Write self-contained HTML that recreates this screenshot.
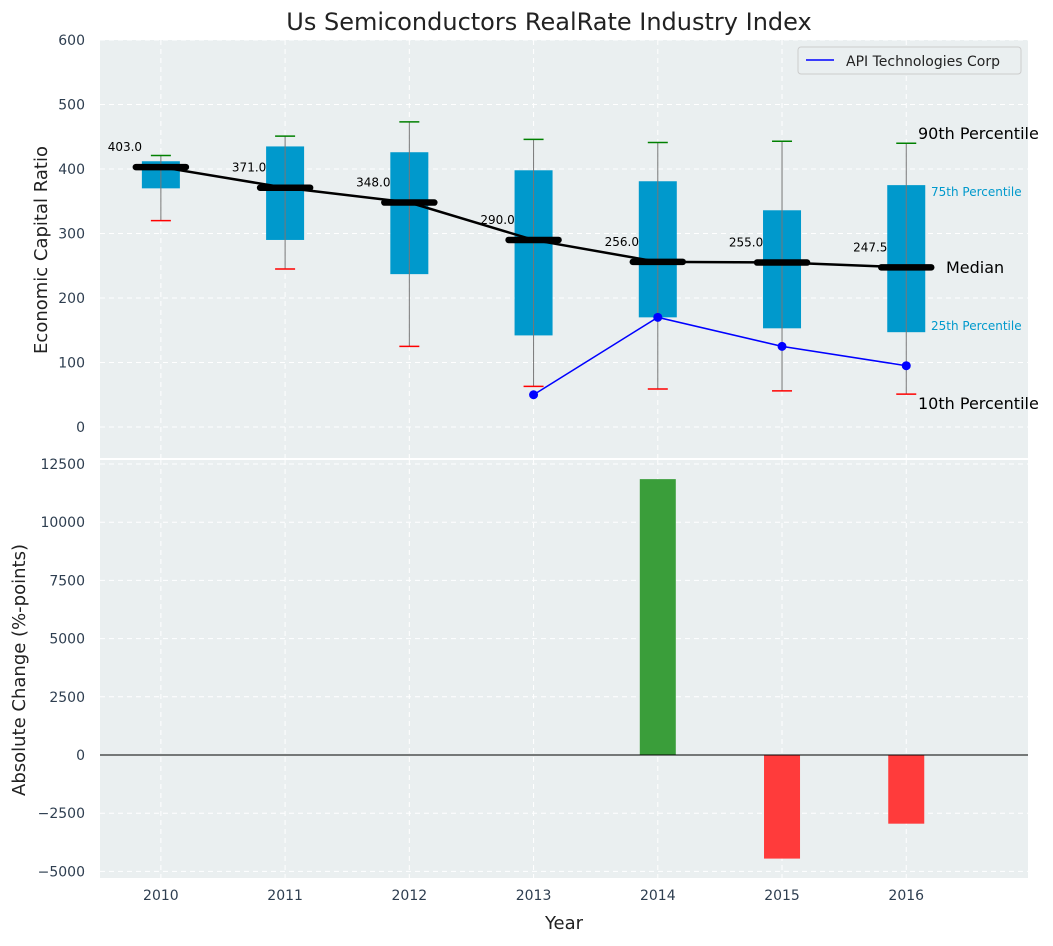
<!DOCTYPE html>
<html><head><meta charset="utf-8"><style>
body{margin:0;background:#fff;font-family:"DejaVu Sans","Liberation Sans",sans-serif;}
svg text{font-family:"DejaVu Sans","Liberation Sans",sans-serif;}
</style></head><body>
<svg id="chart" width="1053" height="942" xmlns="http://www.w3.org/2000/svg"></svg>
<script>
const years=[2010,2011,2012,2013,2014,2015,2016];
const q1=[370,290,237,142,170,153,147];
const q3=[412,435,426,398,381,336,375];
const med=[403,371,348,290,256,255,247.5];
const p10=[320,245,125,63,59,56,51];
const p90=[421,451,473,446,441,443,440];
const apiYears=[2013,2014,2015,2016];
const apiVals=[50,170,125,95];
const changeYears=[2014,2015,2016];
const changeVals=[11850,-4450,-2950];
const yTicksTop=[0,100,200,300,400,500,600];
const yTicksBot=[-5000,-2500,0,2500,5000,7500,10000,12500];

const NS="http://www.w3.org/2000/svg";
const svg=document.getElementById('chart');
function el(t,a,txt){const e=document.createElementNS(NS,t);for(const k in a)e.setAttribute(k,a[k]);if(txt!==undefined)e.textContent=txt;svg.appendChild(e);return e;}
const L=100,R=1028;
const x=v=>L+(v-2009.51)*(R-L)/(7.47);
const yT=v=>427-v*0.645;
const yB=v=>755-v*(291/12500);
const T1=40,B1=458,T2=460,B2=878;

let e;
e=el('rect',{x:L,y:T1,width:R-L,height:B1-T1,fill:'#eaeff0'});

e=el('rect',{x:L,y:T2,width:R-L,height:B2-T2,fill:'#eaeff0'});


years.forEach(yr=>{
  e=el('line',{x1:x(yr),x2:x(yr),y1:T1,y2:B1,stroke:'#fff','stroke-dasharray':'5,4','stroke-width':1});
  
  e=el('line',{x1:x(yr),x2:x(yr),y1:T2,y2:B2,stroke:'#fff','stroke-dasharray':'5,4','stroke-width':1});
  
  e=el('text',{x:x(yr),y:900,'text-anchor':'middle','font-size':14,fill:'#2e3e50'},yr);
  
});
yTicksTop.forEach(v=>{
  e=el('line',{x1:L,x2:R,y1:yT(v),y2:yT(v),stroke:'#fff','stroke-dasharray':'5,4'});
  
  e=el('text',{x:85,y:yT(v)+5,'text-anchor':'end','font-size':14,fill:'#2e3e50'},v);
  
});
yTicksBot.forEach(v=>{
  e=el('line',{x1:L,x2:R,y1:yB(v),y2:yB(v),stroke:'#fff','stroke-dasharray':'5,4'});
  
  e=el('text',{x:85,y:yB(v)+5,'text-anchor':'end','font-size':14,fill:'#2e3e50'},v<0?'\u2212'+(-v):v);
  
});

years.forEach((yr,i)=>{
  const cx=x(yr);
  e=el('rect',{x:cx-19,y:yT(q3[i]),width:38,height:yT(q1[i])-yT(q3[i]),fill:'#0099cc'});
  
  e=el('line',{x1:cx,x2:cx,y1:yT(p10[i]),y2:yT(p90[i]),stroke:'#777','stroke-width':1});
  
  e=el('line',{x1:cx-10,x2:cx+10,y1:yT(p90[i]),y2:yT(p90[i]),stroke:'green','stroke-width':1.5});
  
  e=el('line',{x1:cx-10,x2:cx+10,y1:yT(p10[i]),y2:yT(p10[i]),stroke:'red','stroke-width':1.5});
  
});
e=el('polyline',{points:years.map((yr,i)=>x(yr)+','+yT(med[i])).join(' '),fill:'none',stroke:'#000','stroke-width':2.5});

years.forEach((yr,i)=>{
  const cx=x(yr);
  e=el('line',{x1:cx-25,x2:cx+25,y1:yT(med[i]),y2:yT(med[i]),stroke:'#000','stroke-width':6.5,'stroke-linecap':'round'});
  
  e=el('text',{x:cx-36,y:yT(med[i])-16,'text-anchor':'middle','font-size':12,fill:'#000'},med[i].toFixed(1));
  
});
e=el('polyline',{points:apiYears.map((yr,i)=>x(yr)+','+yT(apiVals[i])).join(' '),fill:'none',stroke:'blue','stroke-width':1.5});

apiYears.forEach((yr,i)=>{
  e=el('circle',{cx:x(yr),cy:yT(apiVals[i]),r:4.5,fill:'blue'});
  
});
[['90th Percentile',918,139,16,'#000'],['75th Percentile',931,196,12,'#0099cc'],['Median',946,273,16,'#000'],['25th Percentile',931,330,12,'#0099cc'],['10th Percentile',918,409,16,'#000']].forEach(a=>{
  e=el('text',{x:a[1],y:a[2],'font-size':a[3],fill:a[4]},a[0]);
  
});
e=el('rect',{x:798,y:47,width:223,height:27,rx:3,fill:'#eaeff0',stroke:'#ccc'});

e=el('line',{x1:806,x2:834,y1:60,y2:60,stroke:'blue','stroke-width':1.5});

e=el('text',{x:846,y:66,'font-size':14,fill:'#222'},'API Technologies Corp');


changeYears.forEach((yr,i)=>{
  const v=changeVals[i];
  e=el('rect',{x:x(yr)-18,y:Math.min(yB(v),yB(0)),width:36,height:Math.abs(yB(v)-yB(0)),fill:v>=0?'#3a9e3a':'#ff3b3b'});
  
});
e=el('line',{x1:L,x2:R,y1:yB(0),y2:yB(0),stroke:'#000','stroke-width':1});


e=el('text',{x:549,y:30,'text-anchor':'middle','font-size':24,fill:'#222'},'Us Semiconductors RealRate Industry Index');

e=el('text',{x:564,y:929,'text-anchor':'middle','font-size':18,fill:'#222'},'Year');

e=el('text',{x:0,y:0,'text-anchor':'middle','font-size':18,fill:'#222',transform:'translate(47,250) rotate(-90)'},'Economic Capital Ratio');

e=el('text',{x:0,y:0,'text-anchor':'middle','font-size':18,fill:'#222',transform:'translate(25,670) rotate(-90)'},'Absolute Change (%-points)');

</script>
</body></html>
